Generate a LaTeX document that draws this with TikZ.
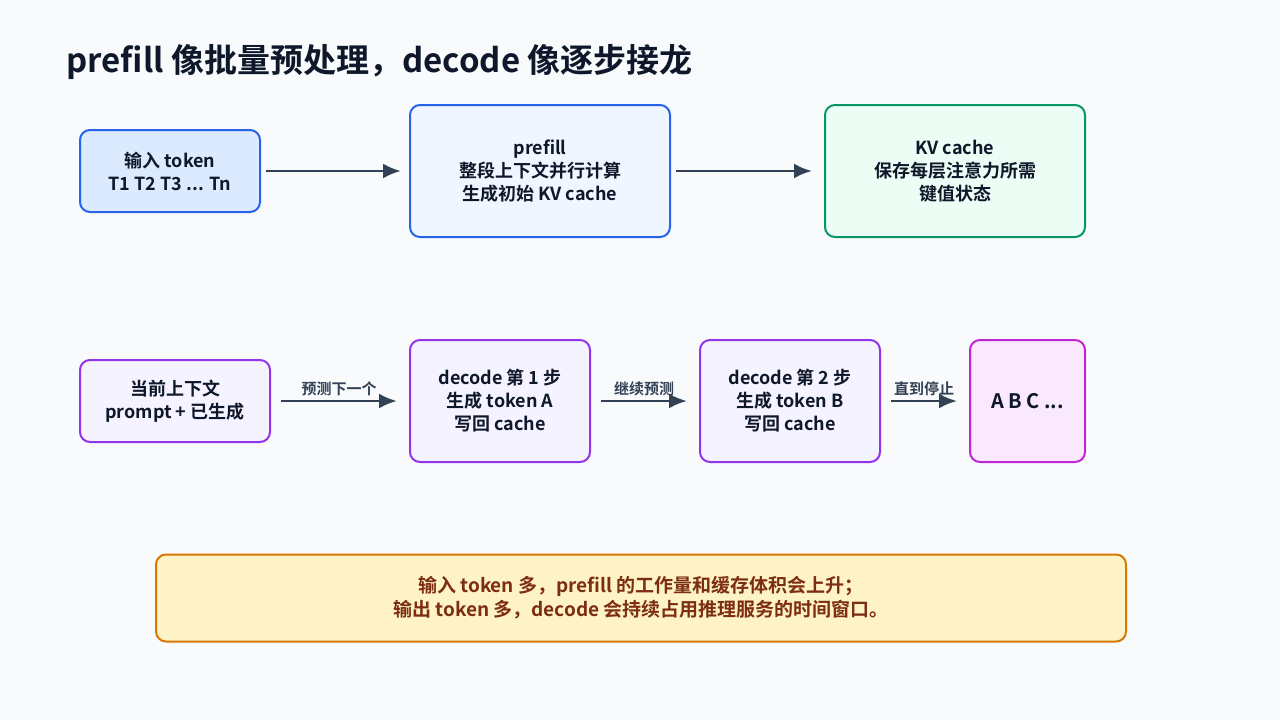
\documentclass[tikz,border=0pt]{standalone}
\usepackage{fontspec}
\setmainfont{Noto Sans CJK SC}[BoldFont={* Bold}]
\usetikzlibrary{arrows.meta,positioning}
\definecolor{bgc}{HTML}{F8FAFC}
\definecolor{ink}{HTML}{0F172A}
\definecolor{arr}{HTML}{334155}
\definecolor{blueb}{HTML}{2563EB}
\definecolor{bluef}{HTML}{DBEAFE}
\definecolor{bluel}{HTML}{EFF6FF}
\definecolor{greenb}{HTML}{059669}
\definecolor{greenf}{HTML}{ECFDF5}
\definecolor{purpb}{HTML}{9333EA}
\definecolor{purpf}{HTML}{F5F3FF}
\definecolor{magb}{HTML}{C026D3}
\definecolor{magf}{HTML}{FAE8FF}
\definecolor{orab}{HTML}{D97706}
\definecolor{oraf}{HTML}{FEF3C7}
\definecolor{brown}{HTML}{7C2D12}
\tikzset{box/.style={draw,line width=2pt,rounded corners=10pt,align=center,text=ink,
    font=\fontsize{18}{23}\selectfont\bfseries,inner sep=0pt},
  flow/.style={draw=arr,line width=2.8pt,-{Latex[length=18pt,width=15pt]}},
  flow label/.style={font=\fontsize{15}{16}\selectfont\bfseries,text=arr,above=0pt}}
\begin{document}
\begin{tikzpicture}[x=1pt,y=-1pt]
\fill[bgc] (0,0) rectangle (1280,720);
\useasboundingbox (0,0) rectangle (1280,720);

\node[anchor=west,text=ink,font=\fontsize{33}{36}\selectfont\bfseries] (title) at (63,62) {prefill 像批量预处理，decode 像逐步接龙};

%% upper row
\node[box,draw=blueb,fill=bluef,minimum width=180,minimum height=82] (input) at (170,171) {输入 token\\T1 T2 T3 ... Tn};
\node[box,draw=blueb,fill=bluel,minimum width=260,minimum height=132] (prefill) at (540,171) {prefill\\整段上下文并行计算\\生成初始 KV cache};
\node[box,draw=greenb,fill=greenf,minimum width=260,minimum height=132] (kv) at (955,171) {KV cache\\保存每层注意力所需\\键值状态};
\draw[flow] ([xshift=5]input.east) -- ([xshift=-8]prefill.west);
\draw[flow] ([xshift=5]prefill.east) -- ([xshift=-12]kv.west);

%% lower row
\node[box,draw=purpb,fill=purpf,minimum width=190,minimum height=82] (ctx) at (175,401) {当前上下文\\prompt + 已生成};
\node[box,draw=purpb,fill=purpf,minimum width=180,minimum height=122] (dec1) at (500,401) {decode 第 1 步\\生成 token A\\写回 cache};
\node[box,draw=purpb,fill=purpf,minimum width=180,minimum height=122] (dec2) at (790,401) {decode 第 2 步\\生成 token B\\写回 cache};
\node[box,draw=magb,fill=magf,minimum width=115,minimum height=122,font=\fontsize{20}{23}\selectfont\bfseries] (out) at (1027.5,401) {A B C ...};
\draw[flow] ([xshift=10]ctx.east) -- node[flow label] {预测下一个} ([xshift=-12]dec1.west);
\draw[flow] ([xshift=10]dec1.east) -- node[flow label] {继续预测} ([xshift=-12]dec2.west);
\draw[flow] ([xshift=10]dec2.east) -- node[flow label] {直到停止} ([xshift=-12]out.west);

%% note
\node[box,draw=orab,fill=oraf,text=brown,minimum width=970,minimum height=87,font=\fontsize{19}{24}\selectfont\bfseries] (note) at (641,598) {输入 token 多，prefill 的工作量和缓存体积会上升；\\输出 token 多，decode 会持续占用推理服务的时间窗口。};
\end{tikzpicture}
\end{document}
